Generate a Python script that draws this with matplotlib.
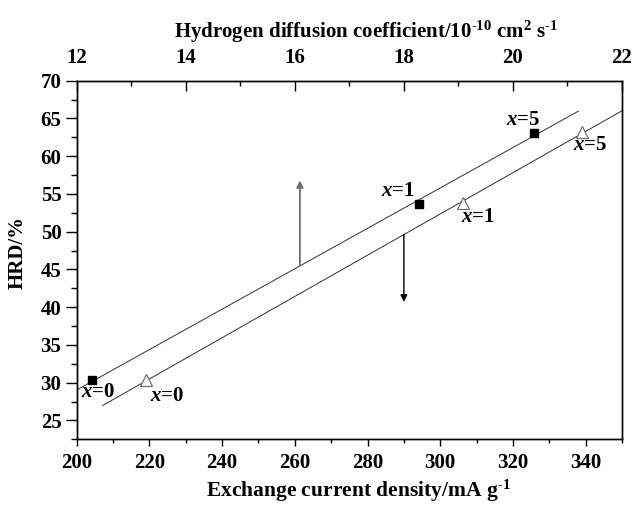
import numpy as np
import matplotlib
matplotlib.use("Agg")
import matplotlib.pyplot as plt
from matplotlib.ticker import MultipleLocator

plt.rcParams['font.family'] = ['Liberation Serif', 'DejaVu Serif']
plt.rcParams['font.weight'] = 'bold'
plt.rcParams['mathtext.fontset'] = 'custom'
plt.rcParams['mathtext.rm'] = 'Liberation Serif:bold'
plt.rcParams['mathtext.it'] = 'Liberation Serif:italic:bold'
plt.rcParams['mathtext.bf'] = 'Liberation Serif:bold'

# Data
labels = ['0', '1', '5']
exchange_current = [204.2, 294.2, 325.8]     # mA g^-1 (bottom axis)
hrd_sq = [30.3, 53.7, 63.1]                  # HRD %
diffusion_coef = [13.27, 19.08, 21.27]       # 10^-10 cm^2 s^-1 (top axis)
hrd_tri = [30.3, 53.8, 63.2]
fit_range_bottom = [200, 338]
fit_range_top = [12.47, 22.0]
arrow_up_x = 261.4      # bottom-axis units
arrow_up_tip = 56.8
arrow_down_x = 18.0     # top-axis units
arrow_down_tip = 40.7

fig = plt.figure(figsize=(6.33, 5.05), dpi=100)
ax = fig.add_axes([0.1212, 0.1301, 0.8614, 0.7101])
ax2 = ax.twiny()

ax.set_xlim(200, 350)
ax.set_ylim(22.5, 70)
ax2.set_xlim(12, 22)

line_col = '#303030'
# bottom-axis data (squares)
p1 = np.polyfit(exchange_current, hrd_sq, 1)
xs = np.array(fit_range_bottom)
ax.plot(xs, np.polyval(p1, xs), color=line_col, lw=0.7, zorder=2)
ax.plot(exchange_current, hrd_sq, 's', color='black', ms=6, zorder=3)

# top-axis data (triangles)
p2 = np.polyfit(diffusion_coef, hrd_tri, 1)
xt = np.array(fit_range_top)
ax2.plot(xt, np.polyval(p2, xt), color=line_col, lw=0.7, zorder=2)
ax2.plot(diffusion_coef, hrd_tri, '^', mfc='white', mec='#707070', mew=0.9, ms=8, zorder=3)

# arrows
ax.annotate('', xy=(arrow_up_x, arrow_up_tip), xytext=(arrow_up_x, np.polyval(p1, arrow_up_x)),
            arrowprops=dict(arrowstyle='-|>', color='#707070', lw=1.3, mutation_scale=10,
                            shrinkA=0, shrinkB=0))
ax2.annotate('', xy=(arrow_down_x, arrow_down_tip), xytext=(arrow_down_x, np.polyval(p2, arrow_down_x)),
             arrowprops=dict(arrowstyle='-|>', color='black', lw=1.0, mutation_scale=10,
                             shrinkA=0, shrinkB=0))

# point labels (offsets in points)
sq_offsets = [(4.5, -8), (-15, 9.5), (-8, 9.5)]
for lab, x, y, off in zip(labels, exchange_current, hrd_sq, sq_offsets):
    ax.annotate(r'$\mathit{x}$=' + lab, (x, y), xytext=off, textcoords='offset points',
                ha='center', va='center', fontsize=15, fontweight='bold')
tri_offsets = [(15, -11), (11, -10), (6, -9.5)]
for lab, x, y, off in zip(labels, diffusion_coef, hrd_tri, tri_offsets):
    ax2.annotate(r'$\mathit{x}$=' + lab, (x, y), xytext=off, textcoords='offset points',
                 ha='center', va='center', fontsize=15, fontweight='bold')

# ticks
ax.xaxis.set_major_locator(MultipleLocator(20))
ax.xaxis.set_minor_locator(MultipleLocator(10))
ax.yaxis.set_major_locator(MultipleLocator(5))
ax.yaxis.set_minor_locator(MultipleLocator(2.5))
ax2.xaxis.set_major_locator(MultipleLocator(2))
ax2.xaxis.set_minor_locator(MultipleLocator(1))

ax.tick_params(axis='x', which='major', direction='out', length=5, width=1, labelsize=15, pad=5)
ax.tick_params(axis='x', which='minor', direction='out', length=3, width=1)
ax.tick_params(axis='y', which='major', direction='out', length=8, width=1, labelsize=15, pad=3)
ax.tick_params(axis='y', which='minor', direction='out', length=4.5, width=1)
ax2.tick_params(axis='x', which='major', direction='in', length=7, width=1, labelsize=15, pad=9)
ax2.tick_params(axis='x', which='minor', direction='in', length=3.5, width=1)
ax.tick_params(right=False, which='both')
for a in (ax, ax2):
    for s in a.spines.values():
        s.set_linewidth(1.0)

ax.set_xlabel('Exchange current density/mA g$^{\u2010\\mathrm{1}}$', fontsize=15.5, fontweight='bold')
ax.xaxis.set_label_coords(0.516, -0.108)
ax.set_ylabel('HRD/%', fontsize=15, fontweight='bold')
ax.yaxis.set_label_coords(-0.09, 0.52)
ax2.set_xlabel('Hydrogen diffusion coefficient/10$^{\u201010}$ cm$^{2}$ s$^{\u20101}$', fontsize=15, fontweight='bold')
ax2.xaxis.set_label_coords(0.53, 1.12)

fig.savefig('out.png', dpi=100)
